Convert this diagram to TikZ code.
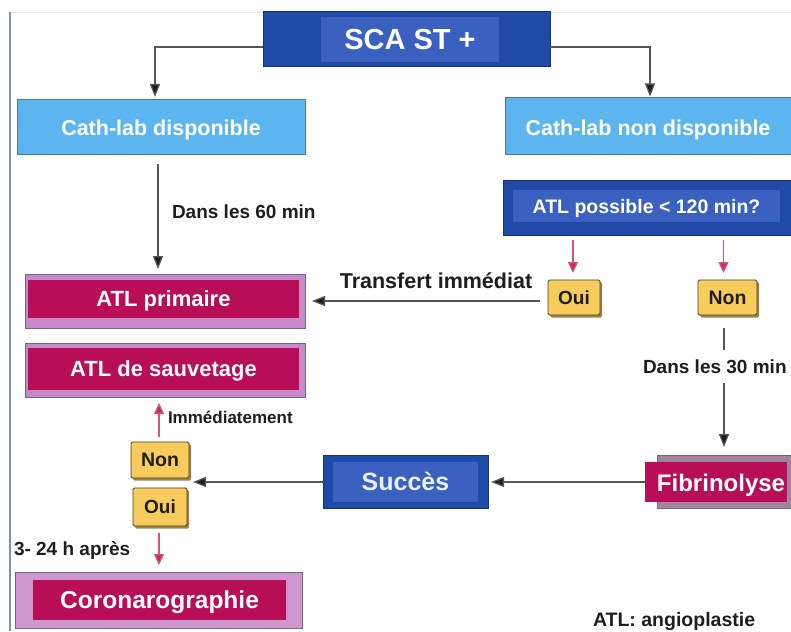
\documentclass[tikz,border=0pt]{standalone}
\usepackage{fontspec}
\setmainfont{Liberation Sans}
\usetikzlibrary{arrows.meta,calc}

\definecolor{navyout}{HTML}{1F4AA8}
\definecolor{navyin}{HTML}{3A60C0}
\definecolor{navyedge}{HTML}{17307A}
\definecolor{skyfill}{HTML}{5CB5EF}
\definecolor{skyedge}{HTML}{4A7A9A}
\definecolor{crimson}{HTML}{B80D57}
\definecolor{mauve}{HTML}{C88AC6}
\definecolor{mauvegrey}{HTML}{A3849D}
\definecolor{boxedge}{HTML}{6A6A8A}
\definecolor{amber}{HTML}{F8CB5D}
\definecolor{amberedge}{HTML}{4A3C1C}
\definecolor{amberdrop}{HTML}{9C8450}
\definecolor{rosearrow}{HTML}{C92A57}
\definecolor{wire}{HTML}{555555}
\definecolor{inktext}{HTML}{1E1E1E}
\definecolor{frame}{HTML}{8090B0}

\newcommand{\fsz}[1]{\fontsize{#1}{#1}\selectfont\bfseries}

\tikzset{
  x=1pt, y=-1pt,
  every node/.style={inner sep=0pt, outer sep=0pt, text depth=0pt},
  navybox/.style={fill=navyout, draw=navyedge, line width=1pt},
  navyinner/.style={fill=navyin},
  skybox/.style={fill=skyfill, draw=skyedge, line width=1pt, text=white},
  outerpink/.style={fill=mauve, draw=boxedge, line width=1pt},
  innerred/.style={fill=crimson, text=white},
  tag/.style={fill=amber, draw=amberedge, line width=0.8pt, text=inktext,
              rounded corners=1.5pt},
  tagdrop/.style={fill=amberdrop, rounded corners=1.5pt},
  conn/.style={draw=wire, line width=1.3pt,
               -{Triangle[length=13pt,width=10pt,fill=inktext]}},
  plainline/.style={draw=wire, line width=1.3pt},
  redarrow/.style={draw=rosearrow!80, line width=1.3pt,
                   -{Triangle[length=11pt,width=10pt,fill=rosearrow]}},
  lbl/.style={text=inktext}
}

\begin{document}
\begin{tikzpicture}
\clip (0,0) rectangle (791,631);
\fill[white] (0,0) rectangle (791,631);

% page frame
\draw[black!10, line width=0.8pt] (10,12) -- (791,12);
\draw[frame, line width=1.4pt] (10,12) -- (10,631);

% title box
\node[navybox, minimum width=287pt, minimum height=55pt] (sca) at (406.5,39.5) {};
\node[navyinner, minimum width=178pt, minimum height=45pt, text=white]
  (scain) at (410,39.5) {\fsz{29}SCA ST +};

% availability of the cath-lab
\node[skybox, minimum width=288pt, minimum height=55pt] (cathL) at (161,127.5)
  {\fsz{21.5}Cath-lab disponible};
\node[skybox, minimum width=300pt, minimum height=57pt] (cathR) at (655,126.5) {};
\node[text=white] (cathRt) at (648,128) {\fsz{21.5}Cath-lab non disponible};

% delay question
\node[navybox, minimum width=302pt, minimum height=55pt] (atlp) at (654,207.5) {};
\node[navyinner, minimum width=267pt, minimum height=32pt, text=white]
  (atlpin) at (646.5,206) {\fsz{19.5}ATL possible < 120 min?};

% left column: angioplasty boxes
\node[outerpink, minimum width=280pt, minimum height=54pt] (prim) at (165,301) {};
\node[innerred, minimum width=271pt, minimum height=38pt] (primin) at (163.5,299)
  {\fsz{22}ATL primaire};
\node[outerpink, minimum width=280pt, minimum height=54pt] (sauv) at (165,370) {};
\node[innerred, minimum width=271pt, minimum height=42pt] (sauvin) at (163.5,369)
  {\fsz{22}ATL de sauvetage};

% yes / no tags under the question
\fill[tagdrop] (550,282) rectangle (602,317.5);
\node[tag, minimum width=52pt, minimum height=35pt] (oui1) at (574,297.5) {\fsz{19}Oui};
\fill[tagdrop] (700,282) rectangle (759,317.5);
\node[tag, minimum width=59pt, minimum height=35pt] (non1) at (727.5,297.5) {\fsz{19.5}Non};

% fibrinolysis and success
\node[fill=mauvegrey, draw=boxedge, line width=1pt, minimum width=148pt,
      minimum height=53pt] (fib) at (731,481.5) {};
\node[innerred, minimum width=142pt, minimum height=40pt] (fibin) at (716,482) {};
\node[text=white] (fibt) at (721,483) {\fsz{24}Fibrinolyse};

\node[navybox, minimum width=165pt, minimum height=53pt] (succ) at (405.5,482) {};
\node[navyinner, minimum width=145pt, minimum height=40pt, text=white!90!navyin]
  (succin) at (405.5,481.5) {\fsz{25}Succès};

% yes / no tags after fibrinolysis
\fill[tagdrop] (133,444) rectangle (191,480.5);
\node[tag, minimum width=58pt, minimum height=36pt] (non2) at (160,460) {\fsz{19.5}Non};
\fill[tagdrop] (135,490) rectangle (189,528.5);
\node[tag, minimum width=54pt, minimum height=38pt] (oui2) at (160,507) {\fsz{19}Oui};

% coronary angiography
\node[fill=mauve!90!white, draw=boxedge, line width=1pt, minimum width=287pt,
      minimum height=56pt] (coro) at (158.5,600) {};
\node[innerred, minimum width=253pt, minimum height=40pt] (coroin) at (159.5,600)
  {\fsz{24.5}Coronarographie};

% connectors from the title
\draw[conn] ($(sca.west)+(0,7.5)$) -| ($(cathL.north)+(-6,-3)$);
\draw[conn] ($(sca.east)+(0,7.5)$) -| ($(cathR.north)+(-5,-1.5)$);

% direct angioplasty path
\draw[conn] ($(cathL.south)+(-3,9)$) -- ($(prim.north)+(-7,-5)$);
\node[lbl, anchor=west] (t60) at (172,212) {\fsz{19}Dans les 60 min};

% answers to the delay question
\draw[redarrow] ($(oui1.north |- atlp.south)+(-1,5)$) -- ($(oui1.north)+(-1,-7)$);
\draw[redarrow] ($(non1.north |- atlp.south)+(-4,5)$) -- ($(non1.north)+(-4,-7)$);

\draw[conn] ($(oui1.west |- prim.east)+(-8,0)$) -- ($(prim.east)+(7,0)$);
\node[lbl] (ttr) at (436,281) {\fsz{21.5}Transfert immédiat};

\draw[plainline] ($(non1.south)+(-3.5,13)$) -- ($(non1.south)+(-3.5,35)$);
\node[lbl, anchor=west] (t30) at (643,367) {\fsz{19}Dans les 30 min};
\draw[conn] ($(non1.south)+(-3.5,68)$) -- ($(non1.south |- fib.north)+(-3.5,-8)$);

% after fibrinolysis
\draw[conn] (fibin.west) -- ($(fibin.west -| succ.east)+(3,0)$);
\draw[conn] (succ.west) -- ($(succ.west -| non2.east)+(4,0)$);

\draw[redarrow] ($(non2.north)+(-1,-5)$) -- ($(sauv.south)+(-6,6)$);
\node[lbl, anchor=west] (timm) at (168,417) {\fsz{17}Immédiatement};

\draw[redarrow] ($(oui2.south)+(-1,7)$) -- ($(coro.north)+(0.5,-7)$);
\node[lbl, anchor=west] (t324) at (14,549) {\fsz{19}3- 24 h après};

% legend
\node[lbl, anchor=west] (legend) at (593,619) {\fsz{19.5}ATL: angioplastie};
\end{tikzpicture}
\end{document}
